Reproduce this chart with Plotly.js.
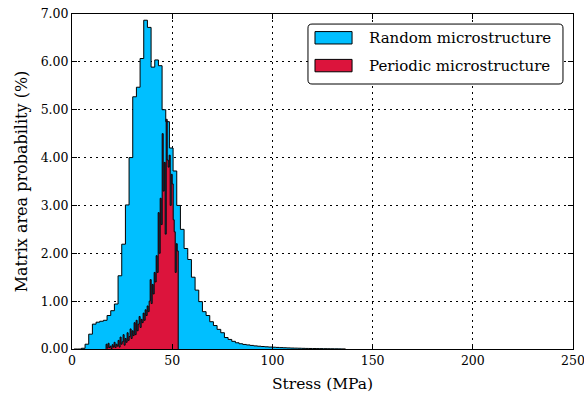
<!DOCTYPE html>
<html><head><meta charset="utf-8">
<script src="https://cdn.plot.ly/plotly-3.0.1.min.js"></script>
<style>html,body{margin:0;padding:0;background:#fff}#chart{width:584px;height:401px}</style>
</head><body><div id="chart"></div>
<script>
// ---- data ----
const seriesNames = ['Random microstructure', 'Periodic microstructure'];
const randomBinStart = 1.03;   // MPa
const randomBinWidth = 1.83;   // MPa
const randomValues = [
  0, 0, 0.015, 0.10, 0.31, 0.52, 0.56, 0.58, 0.60, 0.70,
  0.80, 0.94, 1.53, 2.19, 3.01, 4.00, 5.27, 5.47, 6.07, 6.87,
  6.72, 5.89, 6.04, 5.92, 5.00, 4.75, 4.20, 3.72, 3.00, 2.50,
  2.10, 1.87, 1.50, 1.23, 0.99, 0.78, 0.70, 0.57, 0.49, 0.41,
  0.34, 0.24, 0.20, 0.16, 0.13, 0.11, 0.095, 0.085, 0.075, 0.065,
  0.058, 0.052, 0.046, 0.041, 0.037, 0.033, 0.029, 0.026, 0.023, 0.020,
  0.018, 0.016, 0.014, 0.012, 0.011, 0.010, 0.009, 0.008, 0.007, 0.006,
  0.005, 0.004, 0.003, 0.002
];
const periodicBinStart = 17.0;  // MPa
const periodicBinWidth = 0.5;   // MPa
const periodicValues = [
  0.10, 0.02, 0.12, 0.03, 0.06, 0.01, 0.09, 0.04, 0.14, 0.03,
  0.10, 0.06, 0.18, 0.04, 0.25, 0.10, 0.15, 0.30, 0.08, 0.22,
  0.14, 0.34, 0.18, 0.26, 0.42, 0.22, 0.38, 0.28, 0.55, 0.30,
  0.60, 0.38, 0.52, 0.68, 0.45, 0.62, 0.55, 0.75, 0.60, 0.82,
  0.70, 0.90, 0.78, 1.00, 1.45, 0.95, 1.35, 1.15, 1.60, 1.40,
  1.95, 1.60, 2.85, 2.00, 3.15, 2.60, 4.50, 3.30, 3.90, 2.40,
  4.80, 3.95, 3.80, 4.05, 3.00, 3.65, 3.45, 2.70, 2.45, 1.60,
  2.20, 2.05
];
const xTicks = [0, 50, 100, 150, 200, 250];
const yTicks = [0, 1, 2, 3, 4, 5, 6, 7];
const seriesColors = ['#00BFFF', '#DC143C'];

// histogram step outline built from bins
function stepXY(start, width, vals) {
  const xs = [start], ys = [0];
  vals.forEach((v, i) => { xs.push(start + i * width); ys.push(v); });
  xs.push(start + vals.length * width); ys.push(0);
  return { xs, ys };
}
const r = stepXY(randomBinStart, randomBinWidth, randomValues);
const p = stepXY(periodicBinStart, periodicBinWidth, periodicValues);

const traces = [
  { x: r.xs, y: r.ys, type: 'scatter', mode: 'lines', name: seriesNames[0],
    line: { shape: 'hv', color: '#000', width: 1 }, fill: 'tozeroy',
    fillcolor: seriesColors[0], showlegend: false, hoverinfo: 'skip' },
  { x: p.xs, y: p.ys, type: 'scatter', mode: 'lines', name: seriesNames[1],
    line: { shape: 'hv', color: '#000', width: 1 }, fill: 'tozeroy',
    fillcolor: seriesColors[1], showlegend: false, hoverinfo: 'skip' }
];

const serif = 'DejaVu Serif, Liberation Serif, serif';
const axisCommon = {
  showline: true, linecolor: '#000', linewidth: 1, mirror: 'ticks',
  ticks: 'inside', ticklen: 5, tickwidth: 1, tickcolor: '#000',
  showgrid: true, gridcolor: '#000', gridwidth: 1, griddash: '2px,4px',
  zeroline: false, ticklabeloverflow: 'allow',
  tickfont: { family: serif, size: 12.5, color: '#000' }
};

// custom legend (patches like the reference)
const lx0 = 0.471, lx1 = 0.980, ly0 = 0.791, ly1 = 0.970, rx = 0.008, ry = 0.012;
const boxPath = `M${lx0+rx},${ly0} L${lx1-rx},${ly0} Q${lx1},${ly0} ${lx1},${ly0+ry} L${lx1},${ly1-ry} Q${lx1},${ly1} ${lx1-rx},${ly1} L${lx0+rx},${ly1} Q${lx0},${ly1} ${lx0},${ly1-ry} L${lx0},${ly0+ry} Q${lx0},${ly0} ${lx0+rx},${ly0} Z`;
const legendRows = [0.929, 0.846];
const shapes = [
  { type: 'path', xref: 'paper', yref: 'paper', path: boxPath, fillcolor: '#fff',
    line: { color: '#000', width: 1 }, layer: 'above' }
];
const annotations = [];
seriesNames.forEach((name, i) => {
  const yc = legendRows[i];
  shapes.push({ type: 'rect', xref: 'paper', yref: 'paper', x0: 0.485, x1: 0.559,
    y0: yc - 0.0185, y1: yc + 0.0185, fillcolor: seriesColors[i],
    line: { color: '#000', width: 1 }, layer: 'above' });
  annotations.push({ xref: 'paper', yref: 'paper', x: 0.589, y: yc, xanchor: 'left',
    yanchor: 'middle', showarrow: false, text: name,
    font: { family: serif, size: 15, color: '#000' } });
});

const layout = {
  width: 584, height: 401,
  margin: { l: 72, r: 11, t: 14, b: 52 },
  paper_bgcolor: '#fff', plot_bgcolor: '#fff',
  showlegend: false,
  xaxis: Object.assign({}, axisCommon, {
    range: [0, 250], tickvals: xTicks,
    title: { text: 'Stress (MPa)', font: { family: serif, size: 15.5, color: '#000' }, standoff: 11 }
  }),
  yaxis: Object.assign({}, axisCommon, {
    range: [0, 7], tickvals: yTicks, tickformat: '.2f',
    title: { text: 'Matrix area probability (%)', font: { family: serif, size: 16, color: '#000' }, standoff: 9 }
  }),
  shapes: shapes,
  annotations: annotations
};

Plotly.newPlot('chart', traces, layout, { staticPlot: true, displayModeBar: false });
</script>
</body></html>
